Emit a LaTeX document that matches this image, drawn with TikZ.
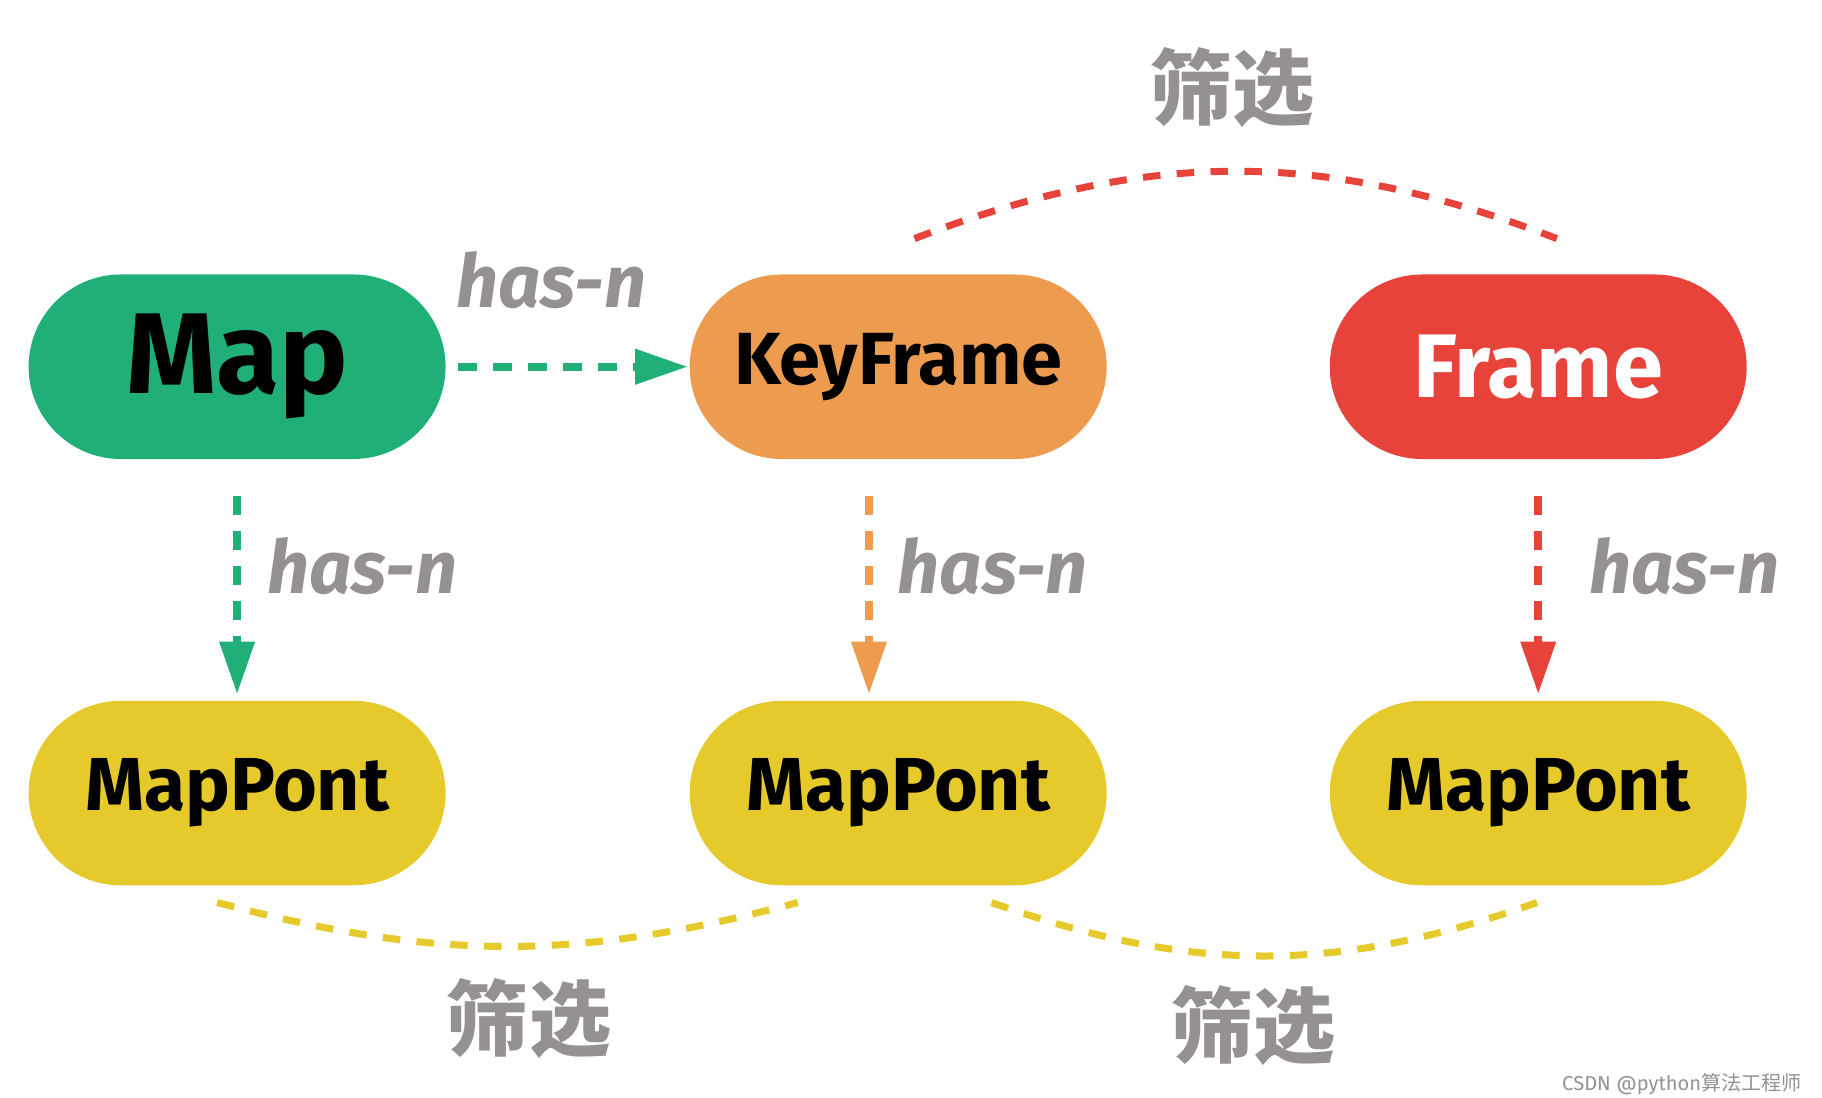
\documentclass[tikz,border=0pt]{standalone}
\usepackage{fontspec}
\setmainfont{Fira Sans}
\newfontfamily\cjk{Noto Sans CJK SC}
\usetikzlibrary{arrows.meta}
\definecolor{mapgreen}{RGB}{32,176,119}
\definecolor{kforange}{RGB}{236,155,79}
\definecolor{frred}{RGB}{232,67,59}
\definecolor{ptyellow}{RGB}{230,202,44}
\definecolor{lblgray}{RGB}{149,145,145}

\begin{document}
\begin{tikzpicture}
    [entity/.style={minimum width=3.57cm, minimum height=1.58cm, rounded corners=0.79cm, inner sep=0pt, font=\bfseries},
    point/.style={entity, fill=ptyellow, font=\fontsize{18.3}{20}\selectfont\bfseries},
    hasn/.style={text=lblgray, font=\fontsize{18}{20}\selectfont\bfseries\itshape},
    sift/.style={text=lblgray, font=\fontsize{20}{22}\selectfont\cjk\bfseries},
    link/.style={line width=0.065cm, dash pattern=on 0.16cm off 0.14cm, -{Triangle[length=0.45cm, width=0.29cm]}},
    arc/.style={line width=0.06cm, dash pattern=on 0.15cm off 0.14cm}]
    \useasboundingbox (0,0) rectangle (15.6,9.4);
    \node[entity, fill=mapgreen, font=\fontsize{28}{30}\selectfont\bfseries] (M) at (2.03, 6.26) {Map};
    \node[entity, fill=kforange, font=\fontsize{18}{20}\selectfont\bfseries] (KF) at (7.69, 6.26) {KeyFrame};
    \node[entity, fill=frred, text=white, font=\fontsize{22}{24}\selectfont\bfseries] (F) at (13.17, 6.26) {Frame};
    \node[point] (P1) at (2.03, 2.61)  {MapPont};
    \node[point] (P2) at (7.69, 2.61)  {MapPont};
    \node[point] (P3) at (13.17, 2.61) {MapPont};
    % has-n links
    \draw[link, mapgreen, shorten <=0.1cm, shorten >=0.01cm] (M.east) -- (KF.west);
    \draw[link, mapgreen, shorten <=0.31cm, shorten >=0.05cm] (M.south) -- (P1.north);
    \draw[link, kforange, shorten <=0.31cm, shorten >=0.05cm] ([xshift=-0.25cm]KF.south) -- ([xshift=-0.25cm]P2.north);
    \draw[link, frred, shorten <=0.31cm, shorten >=0.05cm] (F.south) -- (P3.north);
    \node[hasn] (h0) at (4.72, 7.00) {has-n};
    \node[hasn] (h1) at (3.10, 4.55) {has-n};
    \node[hasn] (h2) at (8.50, 4.55) {has-n};
    \node[hasn] (h3) at (14.42, 4.55) {has-n};
    % filters
    \coordinate (t1) at ([xshift=0.14cm, yshift=0.30cm]KF.north);
    \coordinate (t2) at ([xshift=0.16cm, yshift=0.30cm]F.north);
    \coordinate (b1) at ([xshift=-0.17cm, yshift=-0.14cm]P1.south);
    \coordinate (b2) at ([xshift=-0.86cm, yshift=-0.14cm]P2.south);
    \coordinate (b3) at ([xshift=0.80cm, yshift=-0.14cm]P2.south);
    \coordinate (b4) at ([xshift=-0.01cm, yshift=-0.14cm]P3.south);
    \draw[arc, frred] (t1) to[bend left=21] (t2);
    \draw[arc, ptyellow] (b1) to[bend right=15] (b2);
    \draw[arc, ptyellow] (b3) to[bend right=19.6] (b4);
    \node[sift] (s0) at (10.55, 8.65) {筛选};
    \node[sift] (s1) at (4.53, 0.68)  {筛选};
    \node[sift] (s2) at (10.73, 0.62) {筛选};
    \node[anchor=east, text=lblgray, font=\fontsize{4.9}{6}\selectfont] (wm) at (15.55, 0.12) {CSDN @python{\cjk 算法工程师}};
\end{tikzpicture}
\end{document}
